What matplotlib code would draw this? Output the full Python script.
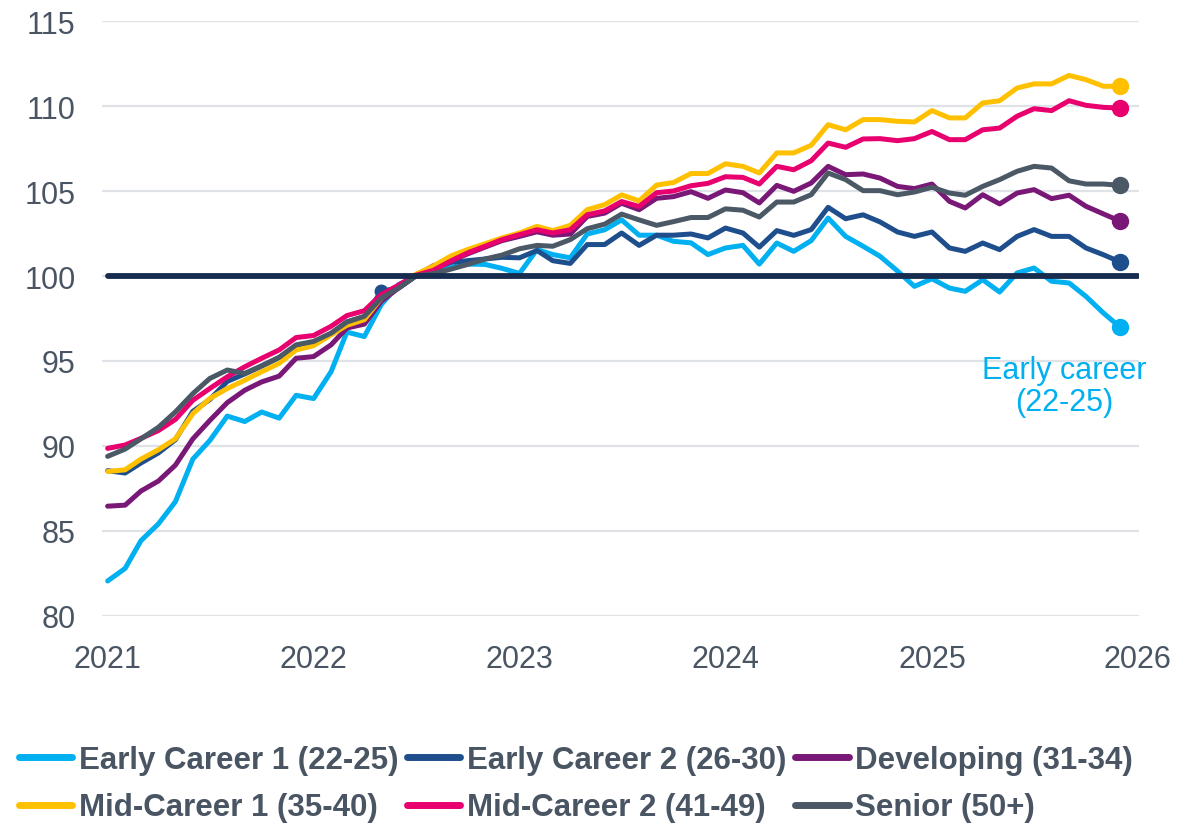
import numpy as np
import pandas as pd
import matplotlib
matplotlib.use("Agg")
import matplotlib.pyplot as plt
import matplotlib.dates as mdates
from matplotlib.lines import Line2D

plt.rcParams['font.family'] = ['Liberation Sans', 'DejaVu Sans']

# monthly index, Jul 2022 = 100
months = pd.date_range('2021-01-01', periods=60, freq='MS')
baseline = 100

early_career_1 = [82.06, 82.8, 84.43, 85.42, 86.72, 89.23, 90.32, 91.76, 91.44, 92.0,
                  91.64, 92.98, 92.79, 94.37, 96.7, 96.44, 98.32, 99.5, 100.0, 100.3,
                  100.5, 100.7, 100.68, 100.45, 100.15, 101.56, 101.26, 101.07, 102.47, 102.72,
                  103.3, 102.4, 102.4, 102.04, 101.95, 101.26, 101.65, 101.8, 100.7, 101.94,
                  101.45, 102.08, 103.41, 102.33, 101.75, 101.16, 100.29, 99.39, 99.84, 99.29,
                  99.1, 99.78, 99.06, 100.18, 100.47, 99.69, 99.59, 98.8, 97.82, 96.98]
early_career_2 = [88.55, 88.41, 89.0, 89.59, 90.37, 92.04, 92.73, 93.8, 94.24, 94.7,
                  95.2, 95.9, 96.1, 96.6, 97.3, 97.6, 99.1, 99.3, 100.0, 100.4,
                  100.8, 100.9, 101.0, 101.1, 101.07, 101.5, 100.9, 100.74, 101.85, 101.85,
                  102.53, 101.8, 102.4, 102.4, 102.47, 102.24, 102.82, 102.53, 101.7, 102.67,
                  102.39, 102.73, 104.04, 103.37, 103.6, 103.18, 102.59, 102.33, 102.59, 101.65,
                  101.45, 101.94, 101.55, 102.33, 102.73, 102.33, 102.33, 101.65, 101.25, 100.82]
developing = [86.46, 86.52, 87.35, 87.94, 88.87, 90.42, 91.5, 92.55, 93.28, 93.77,
              94.11, 95.16, 95.26, 95.95, 96.94, 97.17, 98.52, 99.3, 100.0, 100.6,
              100.9, 101.3, 101.7, 102.08, 102.33, 102.6, 102.4, 102.47, 103.5, 103.7,
              104.28, 103.9, 104.57, 104.67, 104.96, 104.57, 105.06, 104.9, 104.3, 105.33,
              104.98, 105.47, 106.45, 105.96, 106.0, 105.76, 105.27, 105.14, 105.41, 104.39,
              104.0, 104.78, 104.24, 104.88, 105.08, 104.55, 104.75, 104.1, 103.65, 103.22]
mid_career_1 = [88.5, 88.6, 89.23, 89.78, 90.42, 91.9, 92.79, 93.38, 93.87, 94.37,
                94.86, 95.65, 95.9, 96.54, 97.1, 97.43, 98.7, 99.4, 100.1, 100.58,
                101.17, 101.56, 101.9, 102.24, 102.53, 102.92, 102.67, 102.98, 103.9, 104.2,
                104.77, 104.42, 105.35, 105.5, 106.03, 106.03, 106.6, 106.45, 106.06, 107.24,
                107.24, 107.69, 108.9, 108.6, 109.2, 109.2, 109.1, 109.06, 109.73, 109.3,
                109.3, 110.18, 110.31, 111.06, 111.3, 111.3, 111.8, 111.55, 111.16, 111.16]
mid_career_2 = [89.86, 90.06, 90.45, 90.91, 91.56, 92.69, 93.38, 94.07, 94.66, 95.16,
                95.65, 96.38, 96.5, 97.04, 97.67, 97.96, 98.91, 99.47, 100.04, 100.33,
                100.88, 101.36, 101.75, 102.14, 102.43, 102.72, 102.53, 102.72, 103.6, 103.83,
                104.38, 104.09, 104.9, 105.0, 105.31, 105.45, 105.84, 105.8, 105.41, 106.45,
                106.25, 106.78, 107.82, 107.57, 108.06, 108.08, 107.96, 108.08, 108.5, 108.02,
                108.02, 108.6, 108.7, 109.4, 109.84, 109.73, 110.31, 110.04, 109.92, 109.88]
senior = [89.39, 89.82, 90.42, 91.1, 92.0, 93.08, 93.97, 94.47, 94.27, 94.72,
          95.22, 95.95, 96.15, 96.64, 97.29, 97.63, 98.7, 99.3, 100.0, 100.14,
          100.4, 100.68, 101.0, 101.23, 101.6, 101.8, 101.75, 102.14, 102.78, 103.05,
          103.64, 103.3, 102.98, 103.2, 103.44, 103.44, 103.95, 103.87, 103.47, 104.35,
          104.35, 104.78, 106.06, 105.67, 105.02, 105.02, 104.78, 104.94, 105.22, 104.88,
          104.75, 105.27, 105.67, 106.16, 106.45, 106.35, 105.6, 105.41, 105.41, 105.33]

labels = ['Early Career 1 (22-25)', 'Early Career 2 (26-30)', 'Developing (31-34)',
          'Mid-Career 1 (35-40)', 'Mid-Career 2 (41-49)', 'Senior (50+)']
series = [early_career_1, early_career_2, developing, mid_career_1, mid_career_2, senior]
colors = ['#00b0f0', '#1f4e8c', '#7a1877', '#ffc000', '#e8006f', '#4b5865']

text_col = '#4a5563'

fig = plt.figure(figsize=(11.97, 8.28), dpi=100)
ax = fig.add_axes([102 / 1197, 1 - 617 / 828, (1139 - 102) / 1197, (617 - 22) / 828])

handles = []
for lab, vals, col in zip(labels, series, colors):
    ax.plot(months, vals, color=col, lw=3.6, solid_joinstyle='round',
            solid_capstyle='round', marker='o', markersize=11.5,
            markevery=[59], clip_on=False)
    # legend handle: plain line, no marker
    handles.append(Line2D([], [], color=col, lw=5, solid_capstyle='round'))

# stray point marker on Early Career 2 (May 2022), sits under the other lines
ax.plot(months[16], early_career_2[16], 'o', color=colors[1], markersize=9, zorder=1.5)

# reference line at 100
ax.plot([pd.Timestamp('2021-01-01'), pd.Timestamp('2026-01-01')], [baseline, baseline],
        color='#172c4f', lw=4.2, solid_capstyle='round', zorder=5)

ax.annotate('Early career\n(22-25)', xy=(months[-1], early_career_1[-1]),
            xytext=(-56, -59), textcoords='offset pixels', ha='center', va='center',
            fontsize=22, color='#00b0f0', linespacing=1.1)

ax.set_ylim(80, 115)
ax.set_yticks(range(80, 116, 5))
ax.set_xlim(pd.Timestamp('2020-12-22'), pd.Timestamp('2026-01-03'))
ax.xaxis.set_major_locator(mdates.YearLocator())
ax.xaxis.set_major_formatter(mdates.DateFormatter('%Y'))

ax.yaxis.grid(True, color='#dfe2e7', lw=1.6)
ax.set_axisbelow(True)
for s in ax.spines.values():
    s.set_visible(False)
ax.tick_params(axis='both', length=0, labelsize=22, labelcolor=text_col)
ax.tick_params(axis='y', pad=19)
ax.tick_params(axis='x', pad=20)

order = [0, 3, 1, 4, 2, 5]
fig.legend([handles[k] for k in order], [labels[k] for k in order], ncol=3,
           loc='upper left', bbox_to_anchor=(19 / 1197, 1 - 746 / 828),
           frameon=False, borderaxespad=0, borderpad=0,
           handlelength=1.7, handletextpad=0.22, columnspacing=0.28,
           labelspacing=0.56, labelcolor=text_col,
           prop={'family': 'Liberation Sans', 'weight': 'bold', 'size': 22.5})

fig.savefig('out.png', dpi=100)
